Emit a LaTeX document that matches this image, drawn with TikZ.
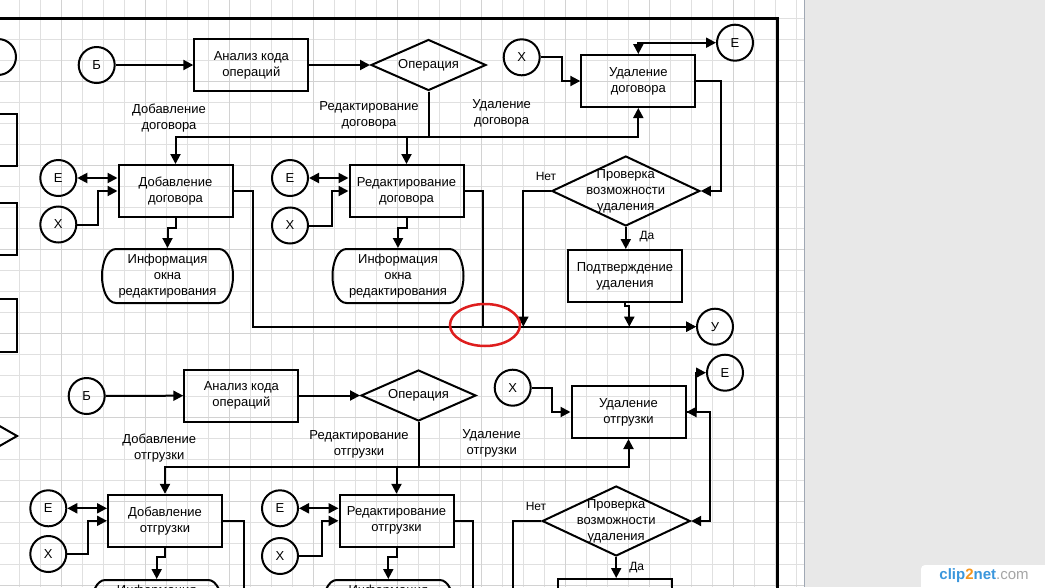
\documentclass[tikz,border=0pt]{standalone}
\usepackage{fontspec}
\setmainfont{Liberation Sans}
\usetikzlibrary{shapes.geometric, arrows.meta}
\definecolor{panel}{RGB}{232,232,232}
\definecolor{gridc}{RGB}{224,224,224}
\definecolor{gridm}{RGB}{210,210,210}
\definecolor{ring}{RGB}{222,30,30}
\definecolor{cliblue}{RGB}{58,150,220}
\definecolor{cliorange}{RGB}{245,150,30}

\begin{document}
\begin{tikzpicture}[x=1pt, y=-1pt, line width=2pt, >={Triangle[length=10pt,width=10pt]},
    every node/.style={font=\fontsize{13}{16}\selectfont, align=center},
    box/.style={draw, minimum width=114pt, minimum height=52pt, inner sep=0pt},
    circ/.style={draw, circle, minimum size=36pt, inner sep=0pt},
    cond/.style={draw, diamond, aspect=2.2, inner sep=0pt},
    info/.style={minimum width=131pt, minimum height=54pt, inner sep=0pt},
    lbl/.style={inner sep=0pt},
    yn/.style={inner sep=0pt, font=\fontsize{12}{14}\selectfont}]
            \useasboundingbox (0,0) rectangle (1045,587);
            % canvas, grid and side panel
            \fill[white] (0,0) rectangle (804,587);
            \fill[panel] (804,0) rectangle (1045,587);
            \foreach \gx in {19.3,40.3,...,797.3}
                \draw[gridc, line width=1pt] (\gx,0) -- (\gx,587);
            \foreach \gy in {18.3,39.3,...,585.3}
                \draw[gridc, line width=1pt] (0,\gy) -- (804,\gy);
            \foreach \gx in {61.3,145.3,...,733.3}
                \draw[gridm, line width=1pt] (\gx,0) -- (\gx,587);
            \foreach \gy in {81.3,165.3,...,585.3}
                \draw[gridm, line width=1pt] (0,\gy) -- (804,\gy);
            \draw[line width=1pt, color={rgb,255:red,160;green,168;blue,180}] (804,0) -- (804,587);
            \draw[line width=3.5pt] (0,18.3) -- (777.3,18.3) -- (777.3,590);

            % cut-off shapes on the left
            \node[circ] (lc) at (-2,57) {};
            \node[box] (lb1) at (-40.3,140) {};
            \node[box] (lb2) at (-40.3,229) {};
            \node[box, minimum height=53pt] (lb3) at (-40.3,325.5) {};
            \node[cond, minimum width=115pt, minimum height=66pt] (ld) at (-40,436) {};

            % contracts
            \node[circ] (b1) at (96.7,65) {Б};
            \node[box] (an1) at (251.3,65) {Анализ кода\\операций};
            \node[cond, minimum width=115pt, minimum height=51pt] (op1) at (428.5,65) {Операция};
            \node[box] (add1) at (175.5,191) {Добавление\\договора};
            \node[box] (ed1) at (406.5,191) {Редактирование\\договора};
            \node[box] (del1) at (638.3,81) {Удаление\\договора};
            \node[circ] (e1a) at (58.3,178) {Е};
            \node[circ] (x1a) at (58.3,224.5) {Х};
            \node[circ] (e1b) at (290,178) {Е};
            \node[circ] (x1b) at (290,225.5) {Х};
            \node[circ] (x1c) at (521.7,57.3) {Х};
            \node[circ] (e1c) at (735,42.7) {Е};
            \node[info] (inf1a) at (167.5,276) {Информация\\окна\\редактирования};
            \node[info] (inf1b) at (398,276) {Информация\\окна\\редактирования};
            \node[cond, minimum width=148pt, minimum height=70pt, label={center:Проверка\\возможности\\удаления}] (chk1) at (625.8,191) {};
            \node[box] (conf1) at (625,276) {Подтверждение\\удаления};
            \node[circ] (u1) at (715,326.7) {У};
            \node[lbl] (la1) at (169,118.5) {Добавление\\договора};
            \node[lbl] (le1) at (369,115) {Редактирование\\договора};
            \node[lbl] (ld1) at (501.7,113.7) {Удаление\\договора};
            \node[yn] (no1) at (546,176) {Нет};
            \node[yn] (yes1) at (647,237) {Да};
            \coordinate (j1) at (523.3,326.7);
            \coordinate (j2) at (629.3,326.7);

            \draw[->] (b1) -- (an1);
            \draw[->] (an1) -- (op1);
            \draw[->] (op1.south) -- (428.5,136.7) -| (add1.north);
            \draw[->] (op1.south) -- (428.5,136.7) -| (ed1.north);
            \draw[->] (op1.south) -- (428.5,136.7) -| (del1.south);
            \draw[<->] (e1a.east) -- (e1a.east -| add1.west);
            \draw[->] (x1a.east) -- (98.3,224.5) |- (add1.west);
            \draw[<->] (e1b.east) -- (e1b.east -| ed1.west);
            \draw[->] (x1b.east) -- (332.3,225.5) |- (ed1.west);
            \draw[->] (add1.south) -- (175.5,228.3) -| (inf1a.north);
            \draw[->] (ed1.south) -- (406.5,228.3) -| (inf1b.north);
            \draw[->] (add1.east) -- (253.3,191) |- (u1.west);
            \draw[->] (ed1.east) -- (483,191) |- (u1.west);
            \draw[->] (x1c.east) -- (562.3,57.3) |- (del1.west);
            \draw[<->] (del1.north) |- (e1c.west);
            \draw[->] (del1.east) -- (720.7,81) |- (chk1.east);
            \draw[->] (chk1.west) -- (523.3,191) -- (j1);
            \draw[->] (chk1.south) -- (chk1.south |- conf1.north);
            \draw[->] (conf1.south) -- (625,306) -- (629.3,306) -- (j2);
            \draw[ring, line width=2.5pt] (485,325) ellipse [x radius=35pt, y radius=21pt];

            % shipments
            \node[circ] (b2) at (86.7,396) {Б};
            \node[box] (an2) at (241.3,395.5) {Анализ кода\\операций};
            \node[cond, minimum width=115pt, minimum height=51pt] (op2) at (418.5,395.5) {Операция};
            \node[box] (add2) at (165,520.8) {Добавление\\отгрузки};
            \node[box] (ed2) at (396.5,520.8) {Редактирование\\отгрузки};
            \node[box] (del2) at (628.5,412) {Удаление\\отгрузки};
            \node[circ] (e2a) at (48.3,508.3) {Е};
            \node[circ] (x2a) at (48.3,554) {Х};
            \node[circ] (e2b) at (280,508.3) {Е};
            \node[circ] (x2b) at (280,556) {Х};
            \node[circ] (x2c) at (512.7,387.7) {Х};
            \node[circ] (e2c) at (725,372.7) {Е};
            \node[info] (inf2a) at (156.7,607) {Информация\\окна\\редактирования};
            \node[info] (inf2b) at (388.3,607) {Информация\\окна\\редактирования};
            \node[cond, minimum width=148pt, minimum height=70pt, label={center:Проверка\\возможности\\удаления}] (chk2) at (616.2,521) {};
            \node[box] (conf2) at (615.3,605) {Подтверждение\\удаления};
            \node[lbl] (la2) at (159.3,448.3) {Добавление\\отгрузки};
            \node[lbl] (le2) at (359,444.7) {Редактирование\\отгрузки};
            \node[lbl] (ld2) at (491.7,443.8) {Удаление\\отгрузки};
            \node[yn] (no2) at (536,506) {Нет};
            \node[yn] (yes2) at (636.7,567.3) {Да};
            \coordinate (j3) at (244.3,595);
            \coordinate (j4) at (473.3,595);
            \coordinate (j5) at (513.3,595);

            \draw[->] (b2) -- (an2);
            \draw[->] (an2) -- (op2);
            \draw[->] (op2.south) -- (418.5,466.7) -| (add2.north);
            \draw[->] (op2.south) -- (418.5,466.7) -| (ed2.north);
            \draw[->] (op2.south) -- (418.5,466.7) -| (del2.south);
            \draw[<->] (e2a.east) -- (e2a.east -| add2.west);
            \draw[->] (x2a.east) -- (88.3,554) |- (add2.west);
            \draw[<->] (e2b.east) -- (e2b.east -| ed2.west);
            \draw[->] (x2b.east) -- (321.7,556) |- (ed2.west);
            \draw[->] (add2.south) -- (165,557.3) -| (inf2a.north);
            \draw[->] (ed2.south) -- (396.5,557.3) -| (inf2b.north);
            \draw (add2.east) -- (244.3,520.8) -- (j3);
            \draw (ed2.east) -- (473.3,520.8) -- (j4);
            \draw[->] (x2c.east) -- (552.3,387.7) |- (del2.west);
            \draw[<->] (del2.east) -- (696,412) |- (e2c.west);
            \draw[->] (del2.east) -- (710,412) |- (chk2.east);
            \draw (chk2.west) -- (513.3,521) -- (j5);
            \draw[->] (chk2.south) -- (chk2.south |- conf2.north);

            % display shapes
            \foreach \n in {inf1a,inf1b,inf2a,inf2b}
                \draw[shift={(\n.center)}] (-51.5,-27) -- (51.5,-27) .. controls (60,-27) and (65.5,-14) .. (65.5,0)
                    .. controls (65.5,14) and (60,27) .. (51.5,27) -- (-51.5,27) .. controls (-60,27) and (-65.5,14) .. (-65.5,0)
                    .. controls (-65.5,-14) and (-60,-27) .. (-51.5,-27) -- cycle;

            % watermark
            \fill[white, rounded corners=4pt] (921,565) rectangle (1052,595);
            \node (wm) at (984,576) {\fontsize{15}{15}\selectfont\textbf{\color{cliblue}clip\color{cliorange}2\color{cliblue}net}\color{gray!70}.com};
        \end{tikzpicture}
\end{document}
